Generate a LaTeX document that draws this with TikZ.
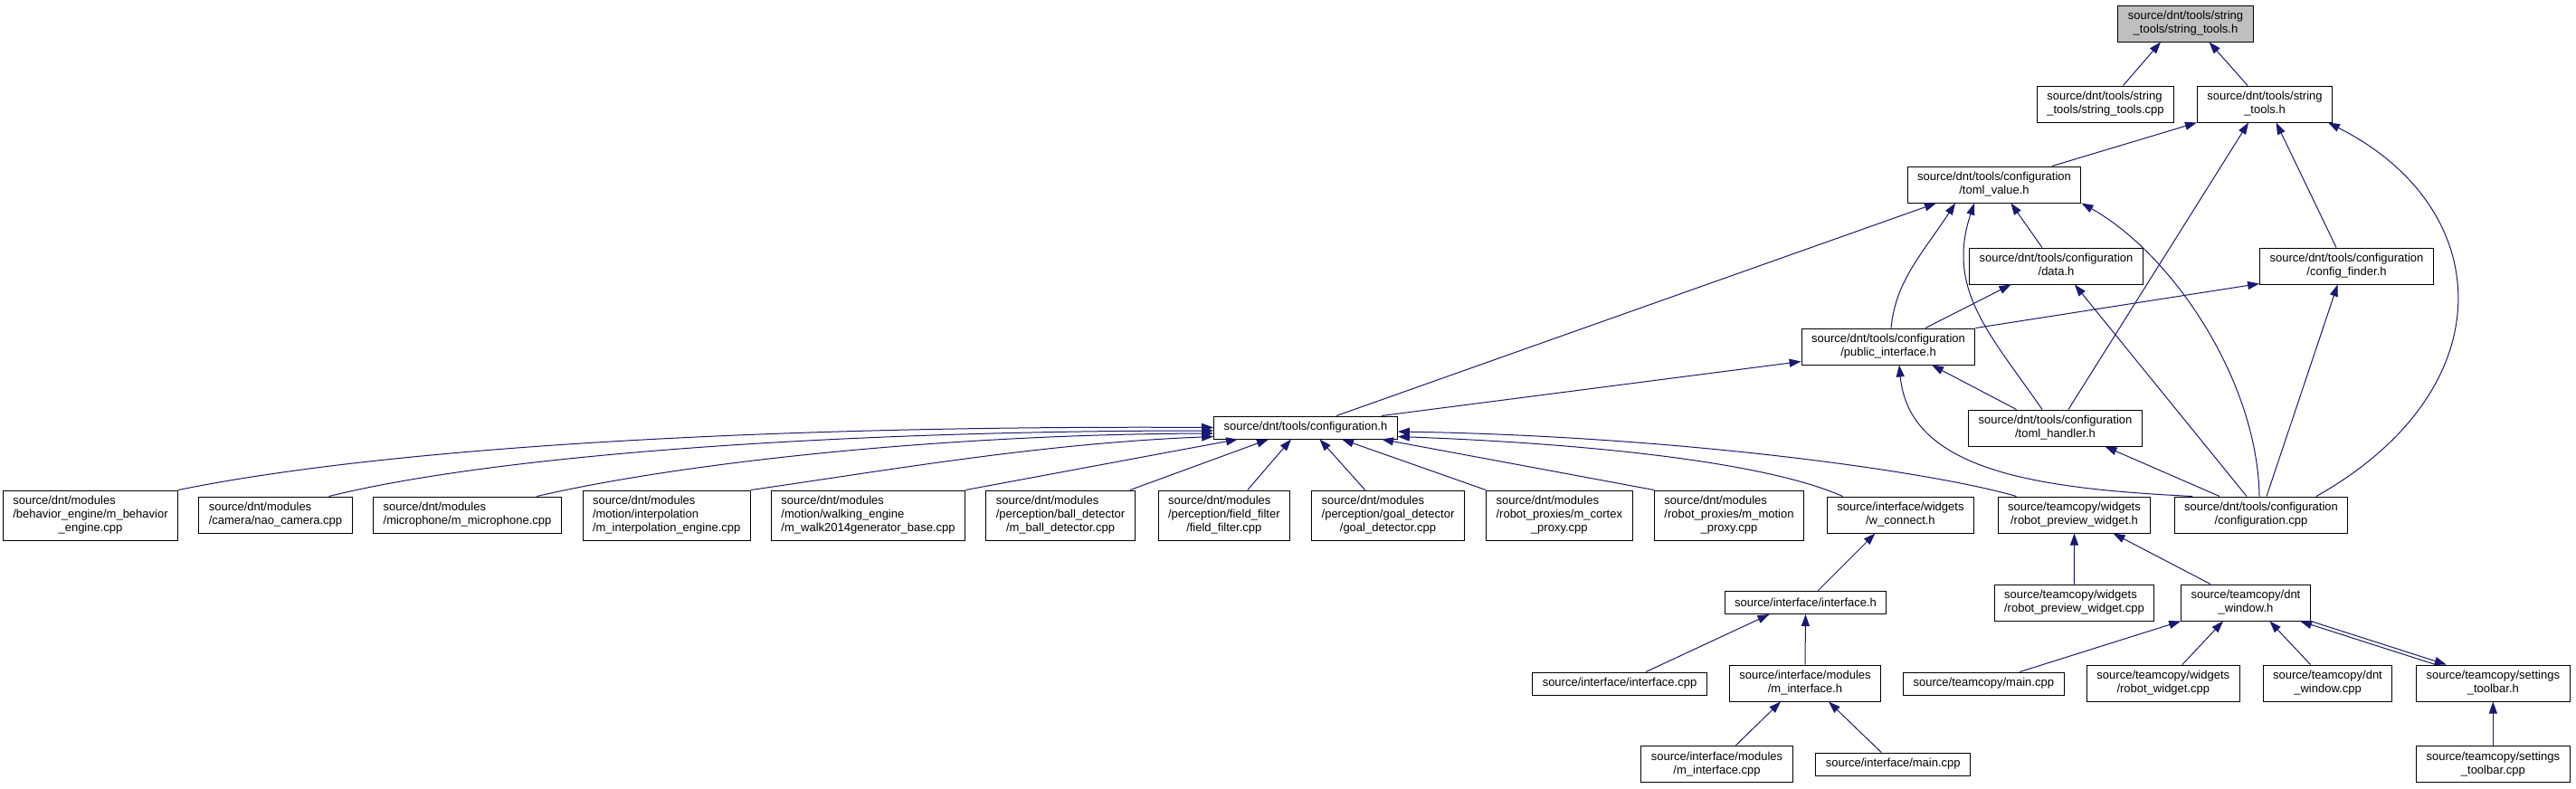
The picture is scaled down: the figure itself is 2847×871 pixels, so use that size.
\documentclass[tikz,border=0pt]{standalone}
\usepackage{fontspec}
\setsansfont{Liberation Sans}
\usepackage{xcolor}
\usepackage{tikz}
\usetikzlibrary{arrows.meta}
\definecolor{DxBlue}{HTML}{191970}
\definecolor{DxGray}{HTML}{BFBFBF}
% two-part label: first lines flush left, last line centred
\newcommand{\flab}[2]{\begin{tabular}{@{}l@{}}#1\\\multicolumn{1}{@{}c@{}}{#2}\end{tabular}}
\tikzset{
  srcfile/.style={draw=black, fill=white, line width=1pt, inner xsep=11pt, inner ysep=5pt,
    minimum height=25pt, font=\sffamily\fontsize{13pt}{15pt}\selectfont},
  focus/.style={srcfile, fill=DxGray},
  incl/.style={draw=DxBlue, line width=1pt, {Triangle[length=13pt, width=9pt]}-},
}

\begin{document}
\begin{tikzpicture}[x=1pt, y=-1pt]
      \useasboundingbox (0,0) rectangle (2847,871);
      % ── header files, upper part ────────────────────────────────────────────
      \node[focus]   (root)    at (2415.5,26)  {\flab{source/dnt/tools/string}{\_tools/string\_tools.h}};
      \node[srcfile] (stcpp)   at (2327,115)   {\flab{source/dnt/tools/string}{\_tools/string\_tools.cpp}};
      \node[srcfile] (sth)     at (2503,115)   {\flab{source/dnt/tools/string}{\_tools.h}};
      \node[srcfile] (tomlv)   at (2204,204)   {\flab{source/dnt/tools/configuration}{/toml\_value.h}};
      \node[srcfile] (data)    at (2272.5,294) {\flab{source/dnt/tools/configuration}{/data.h}};
      \node[srcfile] (cfgfind) at (2593.5,294) {\flab{source/dnt/tools/configuration}{/config\_finder.h}};
      \node[srcfile] (pubif)   at (2087,383)   {\flab{source/dnt/tools/configuration}{/public\_interface.h}};
      \node[srcfile] (confh)   at (1443,472.5) {source/dnt/tools/configuration.h};
      \node[srcfile] (tomlh)   at (2271.5,473) {\flab{source/dnt/tools/configuration}{/toml\_handler.h}};

      % ── row of includers ────────────────────────────────────────────────────
      \node[srcfile] (behav)   at (100,569.5)  {\flab{source/dnt/modules\\/behavior\_engine/m\_behavior}{\_engine.cpp}};
      \node[srcfile] (naocam)  at (304.5,569)  {\flab{source/dnt/modules}{/camera/nao\_camera.cpp}};
      \node[srcfile] (micro)   at (516.5,569)  {\flab{source/dnt/modules}{/microphone/m\_microphone.cpp}};
      \node[srcfile] (interp)  at (736.7,569.5) {\flab{source/dnt/modules\\/motion/interpolation}{/m\_interpolation\_engine.cpp}};
      \node[srcfile] (walk)    at (959.6,569.5) {\flab{source/dnt/modules\\/motion/walking\_engine}{/m\_walk2014generator\_base.cpp}};
      \node[srcfile] (ball)    at (1172,569.5) {\flab{source/dnt/modules\\/perception/ball\_detector}{/m\_ball\_detector.cpp}};
      \node[srcfile] (field)   at (1352.8,569.5) {\flab{source/dnt/modules\\/perception/field\_filter}{/field\_filter.cpp}};
      \node[srcfile] (goal)    at (1534,569.5) {\flab{source/dnt/modules\\/perception/goal\_detector}{/goal\_detector.cpp}};
      \node[srcfile] (cortex)  at (1723.3,569.5) {\flab{source/dnt/modules\\/robot\_proxies/m\_cortex}{\_proxy.cpp}};
      \node[srcfile] (motion)  at (1911,569.5) {\flab{source/dnt/modules\\/robot\_proxies/m\_motion}{\_proxy.cpp}};
      \node[srcfile] (wconn)   at (2100.4,569) {\flab{source/interface/widgets}{/w\_connect.h}};
      \node[srcfile] (rpwh)    at (2292.5,569) {\flab{source/teamcopy/widgets}{/robot\_preview\_widget.h}};
      \node[srcfile] (confcpp) at (2499,569)   {\flab{source/dnt/tools/configuration}{/configuration.cpp}};

      % ── interface / teamcopy ────────────────────────────────────────────────
      \node[srcfile] (ifh)     at (1995.5,666) {source/interface/interface.h};
      \node[srcfile] (rpwcpp)  at (2292.4,666) {\flab{source/teamcopy/widgets}{/robot\_preview\_widget.cpp}};
      \node[srcfile] (dnth)    at (2482,666)   {\flab{source/teamcopy/dnt}{\_window.h}};
      \node[srcfile] (ifcpp)   at (1790,755.5) {source/interface/interface.cpp};
      \node[srcfile] (mifh)    at (1995,755)   {\flab{source/interface/modules}{/m\_interface.h}};
      \node[srcfile] (tcmain)  at (2192.3,755.5) {source/teamcopy/main.cpp};
      \node[srcfile] (rwcpp)   at (2390.8,755) {\flab{source/teamcopy/widgets}{/robot\_widget.cpp}};
      \node[srcfile] (dntcpp)  at (2572.5,755) {\flab{source/teamcopy/dnt}{\_window.cpp}};
      \node[srcfile] (stbh)    at (2755.3,755) {\flab{source/teamcopy/settings}{\_toolbar.h}};
      \node[srcfile] (mifcpp)  at (1897.5,844.7) {\flab{source/interface/modules}{/m\_interface.cpp}};
      \node[srcfile] (ifmain)  at (2092.2,844.5) {source/interface/main.cpp};
      \node[srcfile] (stbcpp)  at (2755.3,844.7) {\flab{source/teamcopy/settings}{\_toolbar.cpp}};

      % ── include edges (tip at the included file) ────────────────────────────
      \draw[incl] ([xshift=-27.5pt]root.south) -- ([xshift=19.5pt]stcpp.north);
      \draw[incl] ([xshift=26pt]root.south) -- ([xshift=-19pt]sth.north);

      \draw[incl] (sth.south west) -- ([xshift=64pt]tomlv.north);
      \draw[incl] ([xshift=-18pt]sth.south) -- ([xshift=14.5pt]tomlh.north);
      \draw[incl] ([xshift=12.6pt]sth.south) -- ([xshift=-11.5pt]cfgfind.north);
      \draw[incl] ([xshift=70pt]sth.south) .. controls (2760,230) and (2770,430) .. ([xshift=61pt]confcpp.north);

      \draw[incl] ([xshift=-64pt]tomlv.south) -- ([xshift=34pt]confh.north);
      \draw[incl] ([xshift=-43pt]tomlv.south) .. controls (2125,280) and (2095,310) .. ([xshift=3pt]pubif.north);
      \draw[incl] ([xshift=-22pt]tomlv.south) .. controls (2150,320) and (2200,370) .. ([xshift=-14.5pt]tomlh.north);
      \draw[incl] ([xshift=18.4pt]tomlv.south) -- ([xshift=-15.6pt]data.north);
      \draw[incl] (tomlv.south east) .. controls (2400,280) and (2495,420) .. ([xshift=-2pt]confcpp.north);

      \draw[incl] ([xshift=-50pt]data.south) -- ([xshift=41pt]pubif.north);
      \draw[incl] ([xshift=20.4pt]data.south) -- ([xshift=-16pt]confcpp.north);

      \draw[incl] ([yshift=1pt]cfgfind.south west) -- (pubif.north east);
      \draw[incl] ([xshift=-10pt]cfgfind.south) -- ([xshift=6pt]confcpp.north);

      \draw[incl] ([yshift=4pt]pubif.south west) -- ([xshift=84pt]confh.north);
      \draw[incl] ([xshift=48pt]pubif.south) -- ([xshift=-43pt]tomlh.north);
      \draw[incl] ([xshift=12pt]pubif.south) .. controls (2110,520) and (2250,540) .. ([xshift=-76pt]confcpp.north);

      \draw[incl] ([xshift=55pt]tomlh.south) -- ([xshift=-46pt]confcpp.north);

      % configuration.h, from the left
      \draw[incl] (confh.west) .. controls (900,470) and (450,490) .. (behav.north east);
      \draw[incl] ([yshift=-3.5pt]confh.west) .. controls (950,476) and (560,500) .. ([xshift=59pt]naocam.north);
      \draw[incl] ([yshift=-6.5pt]confh.west) .. controls (1050,480) and (760,510) .. ([xshift=76.7pt]micro.north);
      \draw[incl] ([yshift=-10pt]confh.west) .. controls (1150,490) and (980,520) .. (interp.north east);
      % configuration.h, from below
      \draw[incl] ([xshift=-75pt]confh.south) -- (walk.north east);
      \draw[incl] ([xshift=-41pt]confh.south) -- ([xshift=77pt]ball.north);
      \draw[incl] ([xshift=-16pt]confh.south) -- ([xshift=26pt]field.north);
      \draw[incl] ([xshift=15.5pt]confh.south) -- ([xshift=-25.4pt]goal.north);
      \draw[incl] ([xshift=40pt]confh.south) -- (cortex.north west);
      \draw[incl] ([xshift=84pt]confh.south) -- (motion.north west);
      % configuration.h, from the right
      \draw[incl] ([yshift=-4.5pt]confh.east) .. controls (1850,482) and (2130,520) .. ([xshift=-64pt]rpwh.north);
      \draw[incl] ([yshift=-10pt]confh.east) .. controls (1750,490) and (1950,510) .. ([xshift=-64pt]wconn.north);

      % ── lower part ──────────────────────────────────────────────────────────
      \draw[incl] ([xshift=-28pt]wconn.south) -- ([xshift=13.5pt]ifh.north);
      \draw[incl] (rpwh.south) -- (rpwcpp.north);
      \draw[incl] ([xshift=43pt]rpwh.south) -- ([xshift=-39pt]dnth.north);

      \draw[incl] ([xshift=-40pt]ifh.south) -- ([xshift=29pt]ifcpp.north);
      \draw[incl] (ifh.south) -- (mifh.north);
      \draw[incl] ([xshift=-27pt]mifh.south) -- ([xshift=20.5pt]mifcpp.north);
      \draw[incl] ([xshift=26pt]mifh.south) -- ([xshift=-13pt]ifmain.north);

      \draw[incl] (dnth.south west) -- ([xshift=40pt]tcmain.north);
      \draw[incl] ([xshift=-25pt]dnth.south) -- ([xshift=21pt]rwcpp.north);
      \draw[incl] ([xshift=26.4pt]dnth.south) -- ([xshift=-19pt]dntcpp.north);
      \draw[incl] ([xshift=60pt]dnth.south) -- ([xshift=-63.6pt]stbh.north);
      \draw[incl] ([xshift=-51.6pt]stbh.north) -- (dnth.south east);
      \draw[incl] (stbh.south) -- (stbcpp.north);
\end{tikzpicture}
\end{document}
